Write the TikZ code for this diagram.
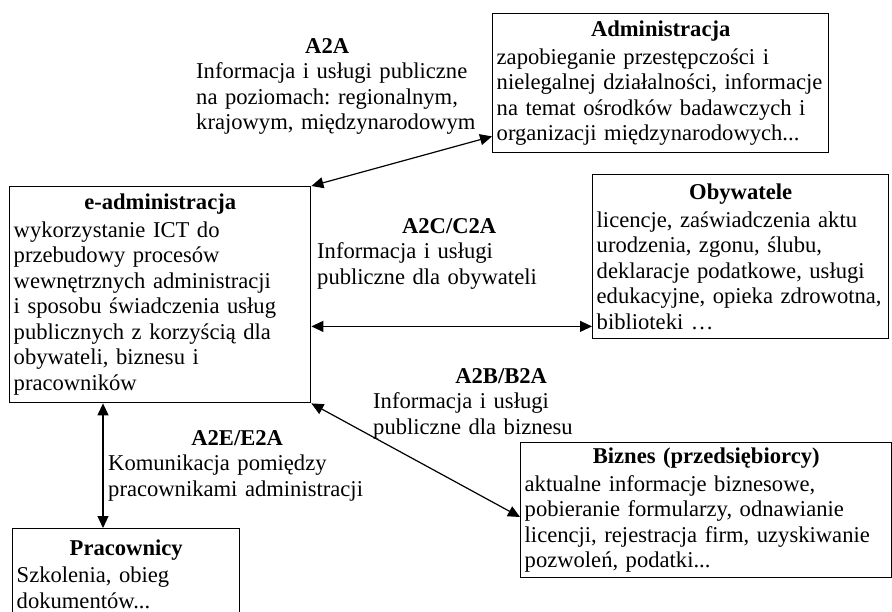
\documentclass[tikz,border=0pt]{standalone}
\usepackage{fontspec}
\setmainfont{Liberation Serif}
\usetikzlibrary{arrows.meta, calc}
\setlength{\parindent}{0pt}
\setlength{\parskip}{0pt}
\hfuzz=60pt
\hyphenpenalty=10000
\frenchspacing
\newcommand{\tytul}[2][0pt]{{\centering\bfseries #2\par}\vspace{#1}}

\begin{document}
\begin{tikzpicture}[x=1pt, y=-1pt,
    ramka/.style={draw, line width=1.4pt, anchor=north west, inner xsep=4pt, inner ysep=0pt,
      align=left, font=\fontsize{22.6}{25.5}\selectfont},
    opis/.style={anchor=north west, inner sep=0pt, align=left, font=\fontsize{22.6}{25.5}\selectfont},
    strz/.style={{Triangle[length=12pt,width=11pt]}-{Triangle[length=12pt,width=11pt]}, line width=1.2pt}]
			\useasboundingbox (0,0) rectangle (892,612);
			
			\node[ramka, text width=328pt, minimum height=139pt] (adm) at (492,13)
			  {\tytul[2pt]{Administracja}zapobieganie przestępczości i\\ nielegalnej działalności, informacje\\ na temat ośrodków badawczych i\\ organizacji międzynarodowych...};
			\node[ramka, text width=293pt, minimum height=216pt] (eadm) at (9,186)
			  {\tytul[2pt]{e-administracja}wykorzystanie ICT do\\ przebudowy procesów\\ wewnętrznych administracji\\ i sposobu świadczenia usług\\ publicznych z korzyścią dla\\ obywateli, biznesu i\\ pracowników};
			\node[ramka, text width=288pt, minimum height=164pt] (oby) at (592,174)
			  {\tytul[2pt]{Obywatele}licencje, zaświadczenia aktu\\ urodzenia, zgonu, ślubu,\\ deklaracje podatkowe, usługi\\ edukacyjne, opieka zdrowotna,\\ biblioteki …};
			\node[ramka, text width=363pt, minimum height=135pt] (biz) at (520,442)
			  {\tytul[2pt]{Biznes (przedsiębiorcy)}aktualne informacje biznesowe,\\ pobieranie formularzy, odnawianie\\ licencji, rejestracja firm, uzyskiwanie\\ pozwoleń, podatki...};
			\node[ramka, text width=219pt, minimum height=91pt] (prac) at (12,528)
			  {\tytul[2pt]{Pracownicy}Szkolenia, obieg\\ dokumentów...};
			
			\node[opis, text width=290pt] (lA2A) at (196,38)
			  {\tytul{A2A\hspace*{28pt}}Informacja i usługi publiczne\\ na poziomach: regionalnym,\\ krajowym, międzynarodowym};
			\node[opis, text width=264pt] (lA2C) at (317,218)
			  {\tytul{A2C/C2A}Informacja i usługi\\ publiczne dla obywateli};
			\node[opis, text width=256pt] (lA2B) at (373,368)
			  {\tytul{A2B/B2A}Informacja i usługi\\ publiczne dla biznesu};
			\node[opis, text width=258pt] (lA2E) at (108,430)
			  {\tytul{A2E/E2A}Komunikacja pomiędzy\\ pracownikami administracji};
			
			\coordinate (pA2A) at ($(adm.south west)+(0,-17)$);
			\coordinate (pA2C) at ($(oby.south west)+(0,-13)$);
			\coordinate (pA2B) at ($(biz.north west)+(0,75)$);
			\coordinate (pA2E) at ($(eadm.south west)+(94,0)$);
			
			\draw[strz] (eadm.north east) -- (pA2A);
			\draw[strz] (pA2C -| eadm.east) -- (pA2C);
			\draw[strz] (eadm.south east) -- (pA2B);
			\draw[strz] (pA2E) -- (pA2E |- prac.north);
\end{tikzpicture}
\end{document}
